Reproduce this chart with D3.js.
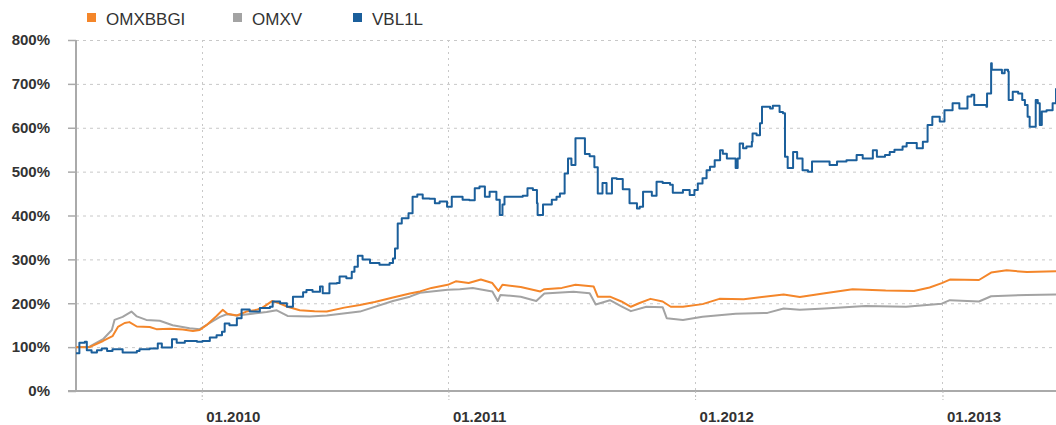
<!DOCTYPE html>
<html>
<head>
<meta charset="utf-8">
<script src="https://cdn.jsdelivr.net/npm/d3@7"></script>
<style>
  html, body { margin: 0; padding: 0; background: #fff; }
  svg { display: block; font-family: "Liberation Sans", Arial, sans-serif; }
</style>
</head>
<body>
<svg id="chart" width="1056" height="425"></svg>
<script>
// ---------- DATA ----------
const seriesNames = ["OMXBBGI", "OMXV", "VBL1L"];
const seriesColors = ["#f4862a", "#a3a3a3", "#1b5f9b"];

const yTickValues = [0, 100, 200, 300, 400, 500, 600, 700, 800];
const xTickDates = ["2010-01-01", "2011-01-01", "2012-01-01", "2013-01-01"];
const xTickLabels = ["01.2010", "01.2011", "01.2012", "01.2013"];
const xDomain = ["2009-06-29", "2013-06-18"];

const omxbbgiDates = ["2009-06-29","2009-07-19","2009-08-08","2009-08-22","2009-08-30","2009-09-09","2009-09-16","2009-09-27","2009-10-16","2009-10-26","2009-11-15","2009-12-04","2009-12-19","2009-12-29","2010-01-08","2010-01-23","2010-02-01","2010-02-08","2010-02-22","2010-03-08","2010-03-23","2010-04-01","2010-04-15","2010-04-26","2010-05-08","2010-05-26","2010-06-17","2010-07-05","2010-07-31","2010-08-23","2010-09-14","2010-10-11","2010-11-05","2010-11-20","2010-12-07","2010-12-31","2011-01-12","2011-01-31","2011-02-18","2011-03-07","2011-03-16","2011-03-22","2011-04-18","2011-05-17","2011-05-23","2011-06-18","2011-07-08","2011-08-04","2011-08-10","2011-08-28","2011-09-14","2011-09-28","2011-10-10","2011-10-27","2011-11-14","2011-11-26","2011-12-14","2012-01-12","2012-02-06","2012-03-13","2012-05-11","2012-06-04","2012-07-11","2012-08-21","2012-10-09","2012-11-20","2012-12-13","2012-12-31","2013-01-12","2013-02-24","2013-03-14","2013-04-06","2013-05-06","2013-06-18"];
const omxbbgiValues = [100,100,114,125,146,155,157,147,146,141,142,140,137,139,150,171,185,176,172,181,185,190,205,200,192,184,182,181,190,196,203,213,222,227,235,242,250,246,254,246,228,242,237,227,232,235,242,238,215,215,204,192,200,210,204,192,192,198,210,209,220,214,223,232,229,228,236,246,254,253,270,275,271,273];

const omxvDates = ["2009-06-29","2009-07-19","2009-08-08","2009-08-21","2009-08-25","2009-09-06","2009-09-19","2009-09-27","2009-10-11","2009-10-31","2009-11-19","2009-12-14","2009-12-29","2010-01-13","2010-01-28","2010-02-07","2010-02-22","2010-03-17","2010-04-07","2010-04-22","2010-05-08","2010-06-10","2010-07-05","2010-08-23","2010-10-11","2010-11-05","2010-11-20","2010-12-31","2011-01-18","2011-02-06","2011-03-07","2011-03-15","2011-03-19","2011-04-18","2011-05-11","2011-05-23","2011-07-05","2011-07-29","2011-08-07","2011-08-28","2011-09-14","2011-09-28","2011-10-21","2011-11-14","2011-11-20","2011-12-14","2012-01-12","2012-03-01","2012-04-17","2012-05-11","2012-06-04","2012-07-11","2012-09-09","2012-11-08","2012-12-31","2013-01-12","2013-02-24","2013-03-14","2013-05-06","2013-06-18"];
const omxvValues = [100,101,118,139,162,169,181,170,162,160,150,143,141,155,169,175,172,176,180,184,171,170,172,181,205,215,224,231,232,235,227,205,219,215,205,222,226,223,197,207,193,182,192,191,166,162,169,176,178,188,185,188,194,192,199,207,204,216,219,220];

const vbl1lDates = ["2009-06-29","2009-07-04","2009-07-12","2009-07-15","2009-07-22","2009-07-30","2009-08-06","2009-08-14","2009-08-22","2009-09-06","2009-09-27","2009-10-01","2009-10-16","2009-10-28","2009-11-03","2009-11-18","2009-11-25","2009-12-07","2009-12-25","2010-01-02","2010-01-13","2010-01-23","2010-01-31","2010-02-04","2010-02-11","2010-02-22","2010-03-01","2010-03-13","2010-03-28","2010-04-12","2010-04-16","2010-04-27","2010-05-07","2010-05-16","2010-05-31","2010-06-05","2010-06-14","2010-06-25","2010-06-29","2010-07-09","2010-07-20","2010-07-24","2010-08-03","2010-08-11","2010-08-15","2010-08-20","2010-08-27","2010-09-07","2010-09-21","2010-10-06","2010-10-11","2010-10-14","2010-10-18","2010-10-24","2010-10-31","2010-11-03","2010-11-09","2010-11-16","2010-11-24","2010-12-04","2010-12-12","2010-12-19","2010-12-30","2011-01-06","2011-01-22","2011-02-01","2011-02-09","2011-02-16","2011-02-24","2011-03-03","2011-03-13","2011-03-18","2011-03-22","2011-03-25","2011-04-06","2011-04-21","2011-04-28","2011-05-06","2011-05-12","2011-05-13","2011-05-21","2011-06-03","2011-06-10","2011-06-15","2011-06-22","2011-06-27","2011-07-02","2011-07-08","2011-07-19","2011-07-22","2011-07-29","2011-08-05","2011-08-10","2011-08-17","2011-08-23","2011-08-31","2011-09-07","2011-09-16","2011-09-26","2011-10-07","2011-10-11","2011-10-16","2011-10-29","2011-11-05","2011-11-14","2011-11-25","2011-11-29","2011-12-14","2011-12-24","2011-12-31","2012-01-05","2012-01-12","2012-01-18","2012-01-23","2012-01-30","2012-02-07","2012-02-11","2012-02-17","2012-02-26","2012-03-01","2012-03-04","2012-03-07","2012-03-12","2012-03-17","2012-03-25","2012-03-26","2012-04-01","2012-04-06","2012-04-09","2012-04-21","2012-04-25","2012-05-05","2012-05-10","2012-05-13","2012-05-17","2012-05-25","2012-05-31","2012-06-08","2012-06-16","2012-06-22","2012-07-03","2012-07-18","2012-07-29","2012-08-12","2012-08-27","2012-09-05","2012-09-20","2012-09-26","2012-10-08","2012-10-15","2012-10-22","2012-11-03","2012-11-09","2012-11-24","2012-12-03","2012-12-10","2012-12-17","2012-12-28","2013-01-04","2013-01-16","2013-01-26","2013-02-07","2013-02-13","2013-02-17","2013-03-01","2013-03-07","2013-03-08","2013-03-14","2013-03-15","2013-03-24","2013-03-30","2013-04-03","2013-04-08","2013-04-09","2013-04-15","2013-04-23","2013-04-29","2013-05-03","2013-05-07","2013-05-10","2013-05-15","2013-05-19","2013-05-22","2013-05-25","2013-05-28","2013-06-04","2013-06-13","2013-06-18"];
const vbl1lValues = [86,110,112,93,88,93,97,91,95,88,91,95,97,108,99,118,110,114,112,114,122,127,135,154,150,166,186,181,189,192,204,200,192,215,225,230,226,238,223,245,246,261,257,272,283,308,300,292,288,292,302,325,382,394,394,405,443,448,439,438,428,432,420,443,436,435,462,466,443,454,436,401,425,443,443,445,462,458,428,401,425,436,443,450,496,530,515,576,576,540,535,510,450,474,450,485,483,460,428,416,420,454,445,477,474,470,452,458,447,458,473,485,503,511,526,549,541,530,530,508,530,564,553,557,568,587,583,610,648,644,650,636,633,534,508,545,530,503,500,523,523,515,523,526,538,530,549,534,538,545,550,557,565,553,568,606,625,614,640,656,644,671,675,652,652,648,678,747,732,732,724,732,728,663,682,678,663,652,625,602,602,663,656,606,637,640,656,690];

// ---------- LAYOUT ----------
const W = 1056, H = 425;
const plot = { left: 76, right: 1056, top: 40, bottom: 391 };
const parse = d3.timeParse("%Y-%m-%d");

const svg = d3.select("#chart");

const x = d3.scaleTime()
  .domain(xDomain.map(parse))
  .range([plot.left, plot.right]);
const y = d3.scaleLinear()
  .domain([0, 800])
  .range([plot.bottom, plot.top]);

// clip
svg.append("defs").append("clipPath").attr("id", "clip")
  .append("rect")
  .attr("x", plot.left).attr("y", 0)
  .attr("width", plot.right - plot.left).attr("height", plot.bottom);

// horizontal grid
svg.append("g")
  .selectAll("line")
  .data(yTickValues.filter(v => v > 0))
  .join("line")
  .attr("x1", plot.left).attr("x2", plot.right)
  .attr("y1", d => y(d) + 0.5).attr("y2", d => y(d) + 0.5)
  .attr("stroke", "#c8c8c8").attr("stroke-width", 1)
  .attr("stroke-dasharray", "3,4");

// vertical grid
svg.append("g")
  .selectAll("line")
  .data(xTickDates.map(parse))
  .join("line")
  .attr("x1", d => Math.round(x(d)) + 0.5).attr("x2", d => Math.round(x(d)) + 0.5)
  .attr("y1", plot.top).attr("y2", plot.bottom)
  .attr("stroke", "#c8c8c8").attr("stroke-width", 1)
  .attr("stroke-dasharray", "2,4");

// y axis
const yAxis = svg.append("g")
  .attr("transform", `translate(${plot.left},0)`)
  .call(d3.axisLeft(y).tickValues(yTickValues).tickFormat(d => d + "%").tickSize(8).tickPadding(18));
yAxis.select(".domain").attr("stroke", "#aaaaaa").attr("stroke-width", 2).attr("d", `M0,${plot.top}V${plot.bottom}`);
yAxis.selectAll(".tick line").attr("stroke", "#aaaaaa").attr("stroke-width", 1.5);
yAxis.selectAll(".tick text")
  .attr("fill", "#333")
  .style("font-size", "15px")
  .style("font-weight", "bold")
  .style("font-family", "'Liberation Sans', Arial, sans-serif");

// x axis
const xAxis = svg.append("g")
  .attr("transform", `translate(0,${plot.bottom})`)
  .call(d3.axisBottom(x).tickValues(xTickDates.map(parse))
    .tickFormat((d, i) => xTickLabels[i]).tickSize(9).tickPadding(11));
xAxis.select(".domain").attr("stroke", "#aaaaaa").attr("stroke-width", 2).attr("d", `M${plot.left - 8},0H${W}`);
xAxis.selectAll(".tick line").attr("stroke", "#bbbbbb").attr("stroke-dasharray", "2,2");
xAxis.selectAll(".tick text")
  .attr("fill", "#333")
  .attr("text-anchor", "start")
  .attr("dx", 4)
  .style("font-size", "15px")
  .style("font-weight", "bold")
  .style("font-family", "'Liberation Sans', Arial, sans-serif");

// lines
const seriesData = [
  omxvDates.map((d, i) => ({ date: parse(d), value: omxvValues[i] })),
  omxbbgiDates.map((d, i) => ({ date: parse(d), value: omxbbgiValues[i] })),
  vbl1lDates.map((d, i) => ({ date: parse(d), value: vbl1lValues[i] }))
];
const seriesColorOrder = [seriesColors[1], seriesColors[0], seriesColors[2]];
const seriesCurves = [d3.curveLinear, d3.curveLinear, d3.curveStepAfter];

svg.append("g").attr("clip-path", "url(#clip)")
  .selectAll("path")
  .data(seriesData)
  .join("path")
  .attr("d", (d, i) => d3.line().x(p => x(p.date)).y(p => y(p.value)).curve(seriesCurves[i])(d))
  .attr("fill", "none")
  .attr("stroke", (d, i) => seriesColorOrder[i])
  .attr("stroke-width", 2)
  .attr("stroke-linejoin", "round");

// legend
const legendX = [87, 233, 353];
const legend = svg.append("g");
seriesNames.forEach((name, i) => {
  legend.append("rect")
    .attr("x", legendX[i]).attr("y", 13)
    .attr("width", 9).attr("height", 9)
    .attr("fill", seriesColors[i]);
  legend.append("text")
    .attr("x", legendX[i] + 19).attr("y", 25)
    .attr("fill", "#333")
    .style("font-size", "17px")
    .text(name);
});
</script>
</body>
</html>
